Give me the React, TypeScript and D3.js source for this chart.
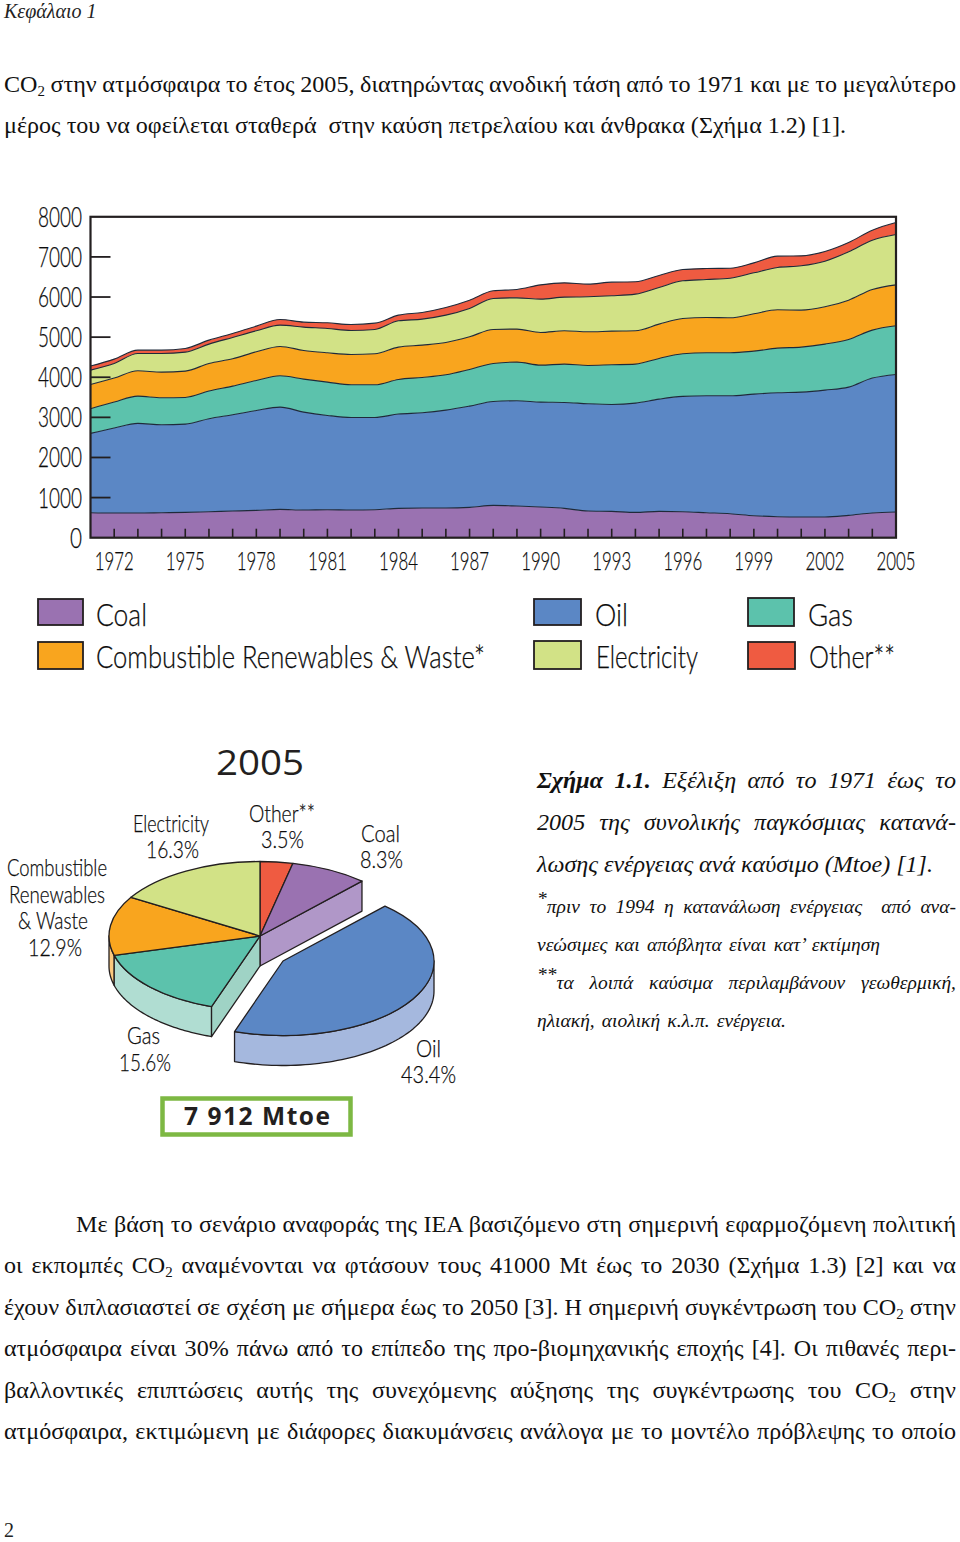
import React, { useLayoutEffect, useRef } from "react";
import * as d3 from "d3";

const years = d3.range(1971, 2006);
const coal = [623,615,615,623,631,648,664,681,706,689,698,689,698,731,739,739,756,806,789,764,731,664,656,631,656,648,623,598,548,523,515,515,556,615,640];
const oil = [1977,2118,2234,2193,2201,2317,2401,2492,2550,2442,2350,2309,2300,2351,2376,2442,2525,2591,2625,2617,2641,2675,2666,2725,2799,2874,2915,2940,3032,3090,3115,3165,3198,3364,3430];
const gas = [614,648,681,673,665,690,714,747,781,823,831,814,814,863,880,881,914,947,963,921,955,955,989,971,1014,1063,1072,1072,1071,1113,1121,1146,1188,1196,1213];
const renewables = [607,598,631,639,656,689,681,715,731,714,731,756,773,806,806,805,814,847,823,814,831,839,839,831,855,880,880,872,931,955,922,930,980,1013,1021];
const electricity = [357,365,432,465,473,482,532,523,531,581,606,598,606,656,648,681,706,773,780,831,839,872,880,914,914,939,947,988,1021,1055,1105,1138,1205,1229,1254];
const other = [100,108,83,83,92,99,99,116,141,125,141,150,158,141,166,191,207,191,208,357,357,316,341,307,299,282,274,249,249,283,249,241,232,249,299];

const seriesKeys = ["coal", "oil", "gas", "renewables", "electricity", "other"];
const seriesValues = { coal, oil, gas, renewables, electricity, other };
const seriesColors = { coal: "#9A72B1", oil: "#5B87C5", gas: "#5CC2AC", renewables: "#F9A51E", electricity: "#D2E286", other: "#EF5B41" };
const yTickValues = [0, 1000, 2000, 3000, 4000, 5000, 6000, 7000, 8000];
const xLabelYears = [1972, 1975, 1978, 1981, 1984, 1987, 1990, 1993, 1996, 1999, 2002, 2005];

const legendItems = [
  { key: "coal", label: "Coal", sx: 38, sy: 599, sw: 45, sh: 26, tx: 96, tw: 51, by: 626 },
  { key: "renewables", label: "Combustible Renewables & Waste*", sx: 38, sy: 642, sw: 45, sh: 27, tx: 96, tw: 389, by: 668 },
  { key: "oil", label: "Oil", sx: 534, sy: 599, sw: 47, sh: 26, tx: 595, tw: 33, by: 626 },
  { key: "electricity", label: "Electricity", sx: 534, sy: 641, sw: 47, sh: 28, tx: 596, tw: 102, by: 668 },
  { key: "gas", label: "Gas", sx: 748, sy: 598, sw: 46, sh: 28, tx: 808, tw: 45, by: 626 },
  { key: "other", label: "Other**", sx: 748, sy: 642, sw: 47, sh: 27, tx: 809, tw: 86, by: 668 },
];

const pieNames = ["other", "coal", "oil", "gas", "renewables", "electricity"];
const pieShares = [3.5, 8.3, 43.4, 15.6, 12.9, 16.3];
const pieWallColors = { coal: "#B097C8", oil: "#A5B8DE", gas: "#B0DDD2", renewables: "#FBC97E" };
const pieLabels = [
  { t: "Electricity", x: 133, w: 76, y: 832 },
  { t: "16.3%", x: 146, w: 53, y: 858 },
  { t: "Other**", x: 249, w: 66, y: 822 },
  { t: "3.5%", x: 261, w: 43, y: 848 },
  { t: "Coal", x: 361, w: 39, y: 842 },
  { t: "8.3%", x: 360, w: 43, y: 868 },
  { t: "Combustible", x: 7, w: 100, y: 876 },
  { t: "Renewables", x: 9, w: 96, y: 903 },
  { t: "& Waste", x: 18, w: 70, y: 929 },
  { t: "12.9%", x: 28, w: 54, y: 956 },
  { t: "Gas", x: 127, w: 33, y: 1044 },
  { t: "15.6%", x: 119, w: 52, y: 1071 },
  { t: "Oil", x: 416, w: 25, y: 1057 },
  { t: "43.4%", x: 401, w: 55, y: 1083 },
];

const introLines = [
  { parts: [{ t: "CO" }, { t: "2", sub: true }, { t: " στην ατμόσφαιρα το έτος 2005, διατηρώντας ανοδική τάση από το 1971 και με το μεγαλύτερο" }], x2: 956, y: 92 },
  { parts: [{ t: "μέρος του να οφείλεται σταθερά  στην καύση πετρελαίου και άνθρακα (Σχήμα 1.2) [1]." }], x2: 846, y: 133 },
];
const captionLines = [
  { parts: [{ t: "Σχήμα 1.1.", bold: true }, { t: " Εξέλιξη από το 1971 έως το" }], x2: 956, y: 788, size: 24.1 },
  { parts: [{ t: "2005 της συνολικής παγκόσμιας κατανά-" }], x2: 956, y: 830, size: 24.1 },
  { parts: [{ t: "λωσης ενέργειας ανά καύσιμο (Mtoe) [1]." }], x2: 933, y: 872, size: 24.1 },
  { parts: [{ t: "*", sup: true }, { t: "πριν το 1994 η κατανάλωση ενέργειας  από ανα-" }], x2: 956, y: 913, size: 19.5 },
  { parts: [{ t: "νεώσιμες και απόβλητα είναι κατ’ εκτίμηση" }], x2: 880, y: 951, size: 19.5 },
  { parts: [{ t: "**", sup: true }, { t: "τα λοιπά καύσιμα περιλαμβάνουν γεωθερμική," }], x2: 956, y: 989, size: 19.5 },
  { parts: [{ t: "ηλιακή, αιολική κ.λ.π. ενέργεια." }], x2: 786, y: 1027, size: 19.5 },
];
const bodyLines = [
  { parts: [{ t: "Με βάση το σενάριο αναφοράς της IEA βασιζόμενο στη σημερινή εφαρμοζόμενη πολιτική" }], x: 76, x2: 956, y: 1232 },
  { parts: [{ t: "οι εκπομπές CO" }, { t: "2", sub: true }, { t: " αναμένονται να φτάσουν τους 41000 Mt έως το 2030 (Σχήμα 1.3) [2] και να" }], x2: 956, y: 1273 },
  { parts: [{ t: "έχουν διπλασιαστεί σε σχέση με σήμερα έως το 2050 [3]. Η σημερινή συγκέντρωση του CO" }, { t: "2", sub: true }, { t: " στην" }], x2: 956, y: 1315 },
  { parts: [{ t: "ατμόσφαιρα είναι 30% πάνω από το επίπεδο της προ-βιομηχανικής εποχής [4]. Οι πιθανές περι-" }], x2: 956, y: 1356 },
  { parts: [{ t: "βαλλοντικές επιπτώσεις αυτής της συνεχόμενης αύξησης της συγκέντρωσης του CO" }, { t: "2", sub: true }, { t: " στην" }], x2: 956, y: 1398 },
  { parts: [{ t: "ατμόσφαιρα, εκτιμώμενη με διάφορες διακυμάνσεις ανάλογα με το μοντέλο πρόβλεψης το οποίο" }], x2: 956, y: 1439 },
];

const SERIF = "'Liberation Serif', serif";
const GEO = "Lato, 'Noto Sans', sans-serif";
const INK = "#231F20";

function Justified({ parts, x = 4, x2, y, size = 24.1, italic = false }: any) {
  const ref = useRef<any>(null);
  useLayoutEffect(() => {
    const el = ref.current;
    el.style.wordSpacing = "0px";
    const natural = el.getComputedTextLength();
    const spaces = parts.map((p: any) => p.t).join("").split(" ").length - 1;
    if (spaces > 0) el.style.wordSpacing = (x2 - x - natural) / spaces + "px";
  }, []);
  let offset = 0;
  return (
    <text ref={ref} x={x} y={y} fontFamily={SERIF} fontSize={size} fontStyle={italic ? "italic" : "normal"} fill="#111" style={{ whiteSpace: "pre" }}>
      {parts.map((p: any, i: number) => {
        const target = p.sub ? size * 0.17 : p.sup ? -size * 0.4 : 0;
        const dy = target - offset;
        offset = target;
        return (
          <tspan key={i} dy={dy} fontWeight={p.bold ? "bold" : "normal"} fontSize={p.sub ? size * 0.62 : size}>
            {p.t}
          </tspan>
        );
      })}
    </text>
  );
}

function FitText({ t, x, w, y, size, anchor = "start" }: any) {
  return (
    <text x={x} y={y} fontFamily={GEO} fontWeight={300} fontSize={size} fill="#0c0c0c" stroke="#0c0c0c" strokeWidth={0.25} textAnchor={anchor} textLength={w} lengthAdjust="spacingAndGlyphs">
      {t}
    </text>
  );
}

function AreaChart() {
  const x = d3.scaleLinear().domain([1971, 2005]).range([90.5, 896]);
  const y = d3.scaleLinear().domain([0, 8000]).range([537.7, 216.8]);
  const rows = years.map((yr, i) => {
    const row: any = { year: yr };
    seriesKeys.forEach((k) => (row[k] = seriesValues[k][i]));
    return row;
  });
  const stacked = d3.stack().keys(seriesKeys)(rows);
  const area = d3.area<any>().x((d) => x(d.data.year)).y0((d) => y(d[0])).y1((d) => y(d[1])).curve(d3.curveMonotoneX);
  const topLine = d3.line<any>().x((d) => x(d.data.year)).y((d) => y(d[1])).curve(d3.curveMonotoneX);
  return (
    <g>
      {stacked.map((s) => (
        <path key={s.key} d={area(s as any) as string} fill={seriesColors[s.key]} />
      ))}
      {stacked.map((s) => (
        <path key={s.key} d={topLine(s as any) as string} fill="none" stroke="#1f2a3a" strokeWidth={1.1} />
      ))}
      {yTickValues.slice(1, -1).map((v) => (
        <line key={v} x1={x(1971)} x2={x(1971) + 20} y1={y(v)} y2={y(v)} stroke={INK} strokeWidth={1.8} />
      ))}
      {years.slice(1, -1).map((yr) => (
        <line key={yr} x1={x(yr)} x2={x(yr)} y1={y(0)} y2={y(0) - 9} stroke={INK} strokeWidth={1.6} />
      ))}
      <rect x={x(1971)} y={y(8000)} width={x(2005) - x(1971)} height={y(0) - y(8000)} fill="none" stroke={INK} strokeWidth={2.2} />
      {yTickValues.map((v) => (
        <FitText key={v} t={String(v)} x={82} y={y(v) + 10} w={v === 0 ? 12 : 44} size={27} anchor="end" />
      ))}
      {xLabelYears.map((yr) => (
        <FitText key={yr} t={String(yr)} x={x(yr)} y={570} w={39} size={26} anchor="middle" />
      ))}
      {legendItems.map((it) => (
        <g key={it.key}>
          <rect x={it.sx} y={it.sy} width={it.sw} height={it.sh} fill={seriesColors[it.key]} stroke={INK} strokeWidth={1.8} />
          <FitText t={it.label} x={it.tx} y={it.by} w={it.tw} size={31} />
        </g>
      ))}
    </g>
  );
}

function PieChart() {
  const RX = 151;
  const RY = 74.5;
  const DEPTH = 30;
  const cx = 260;
  const cy = 936;
  const oilCx = 283;
  const oilCy = 961;
  const slices = d3.pie<number>().sort(null).value((d) => d)(pieShares);
  const arc = d3.arc<any>().innerRadius(0).outerRadius(RX);
  const byName: any = {};
  slices.forEach((s, i) => (byName[pieNames[i]] = s));
  const px = (a: number, c: number) => c + RX * Math.sin(a);
  const py = (a: number, c: number) => c - RY * Math.cos(a);
  const line = d3.line();
  // outer wall between two pie angles, following the ellipse
  const wall = (a0: number, a1: number, ox: number, oy: number) => {
    const from = Math.max(a0, Math.PI / 2);
    const to = Math.min(a1, (3 * Math.PI) / 2);
    const angles = d3.range(0, 61).map((i) => from + ((to - from) * i) / 60);
    const top = angles.map((a) => [px(a, ox), py(a, oy)] as [number, number]);
    const bottom = angles.slice().reverse().map((a) => [px(a, ox), py(a, oy) + DEPTH] as [number, number]);
    return line([...top, ...bottom]) + "Z";
  };
  const radial = (a: number, ox: number, oy: number) =>
    line([[ox, oy], [px(a, ox), py(a, oy)], [px(a, ox), py(a, oy) + DEPTH], [ox, oy + DEPTH]]) + "Z";
  const stroke = { stroke: INK, strokeWidth: 1.3, strokeLinejoin: "round" as const };
  const k = RY / RX;
  return (
    <g>
      <path d={radial(byName.coal.endAngle, cx, cy)} fill={pieWallColors.coal} {...stroke} />
      <path d={wall(byName.renewables.startAngle, byName.renewables.endAngle, cx, cy)} fill={pieWallColors.renewables} {...stroke} />
      <path d={wall(byName.gas.startAngle, byName.gas.endAngle, cx, cy)} fill={pieWallColors.gas} {...stroke} />
      <path d={radial(byName.gas.startAngle, cx, cy)} fill="#9FD3C5" {...stroke} />
      <g transform={`translate(${cx},${cy}) scale(1,${k})`}>
        {pieNames.filter((n) => n !== "oil").map((n) => (
          <path key={n} d={arc(byName[n]) as string} fill={seriesColors[n]} vectorEffect="non-scaling-stroke" {...stroke} />
        ))}
      </g>
      <path d={wall(byName.oil.startAngle, byName.oil.endAngle, oilCx, oilCy)} fill={pieWallColors.oil} {...stroke} />
      <g transform={`translate(${oilCx},${oilCy}) scale(1,${k})`}>
        <path d={arc(byName.oil) as string} fill={seriesColors.oil} vectorEffect="non-scaling-stroke" {...stroke} />
      </g>
      {pieLabels.map((l) => (
        <FitText key={l.t} t={l.t} x={l.x} w={l.w} y={l.y} size={24} />
      ))}
      <text x={216} y={775} fontFamily="'Open Sans', sans-serif" fontSize={34} fill={INK} textLength={88} lengthAdjust="spacingAndGlyphs">2005</text>
      <rect x={162.5} y={1098.5} width={188} height={36} fill="#fff" stroke="#7DB843" strokeWidth={4.5} />
      <text x={184} y={1125} fontFamily="'Open Sans', sans-serif" fontWeight="bold" fontSize={24.5} fill={INK} textLength={146} lengthAdjust="spacing">
        7 912 Mtoe
      </text>
    </g>
  );
}

export default function App() {
  return (
    <svg width={960} height={1542} viewBox="0 0 960 1542" style={{ position: "absolute", left: 0, top: 0, background: "#fff" }}>
      <text x={4} y={18} fontFamily={SERIF} fontStyle="italic" fontSize={20} fill="#222">Κεφάλαιο 1</text>
      {introLines.map((l, i) => <Justified key={i} {...l} />)}
      <AreaChart />
      <PieChart />
      {captionLines.map((l, i) => <Justified key={i} {...l} x={537} italic />)}
      {bodyLines.map((l, i) => <Justified key={i} {...l} />)}
      <text x={4} y={1537} fontFamily={SERIF} fontSize={20} fill="#222">2</text>
    </svg>
  );
}
